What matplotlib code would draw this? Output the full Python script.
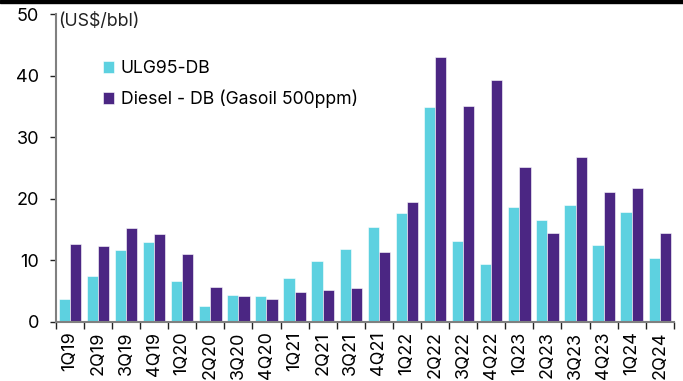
import numpy as np
import matplotlib.pyplot as plt
from matplotlib.patches import Rectangle

plt.rcParams['font.family'] = ['Inter', 'DejaVu Sans']

# 季度标签
quarters = ['1Q19', '2Q19', '3Q19', '4Q19', '1Q20', '2Q20', '3Q20', '4Q20',
            '1Q21', '2Q21', '3Q21', '4Q21', '1Q22', '2Q22', '3Q22', '4Q22',
            '1Q23', '2Q23', '3Q23', '4Q23', '1Q24', '2Q24']

# 汽油裂解价差
ulg95 = [3.7, 7.5, 11.7, 12.9, 6.6, 2.5, 4.4, 4.1,
         7.1, 9.9, 11.8, 15.4, 17.7, 34.9, 13.2, 9.4,
         18.6, 16.5, 18.9, 12.5, 17.8, 10.3]

# 柴油裂解价差
diesel = [12.7, 12.3, 15.3, 14.3, 11.0, 5.7, 4.2, 3.7,
          4.8, 5.2, 5.4, 11.4, 19.5, 43.0, 35.1, 39.3,
          25.1, 14.5, 26.8, 21.1, 21.7, 14.5]

cyan = '#5DD1E0'
purple = '#4B2683'

fig = plt.figure(figsize=(6.83, 3.81), dpi=100)
ax = fig.add_axes([0.0816, 0.1557, 0.905, 0.807])

x = np.arange(len(quarters))
w = 0.4
ax.bar(x - w / 2, ulg95, w, color=cyan, edgecolor='white', linewidth=0.4,
       label='ULG95-DB')
ax.bar(x + w / 2, diesel, w, color=purple, edgecolor='white', linewidth=0.4,
       label='Diesel - DB (Gasoil 500ppm)')

ax.set_xlim(-0.5, len(quarters) - 0.5)
ax.set_ylim(0, 50)
ax.set_yticks([0, 10, 20, 30, 40, 50])

# 刻度线在类别边界，标签在中心
ax.set_xticks(np.arange(len(quarters) + 1) - 0.5)
ax.set_xticklabels([])
ax.set_xticks(x, minor=True)
ax.set_xticklabels(quarters, minor=True, rotation=90, fontsize=13)
ax.tick_params(axis='x', which='minor', length=0, pad=7)
ax.tick_params(axis='x', which='major', length=5, width=1, color='#222222',
               direction='out')
ax.tick_params(axis='y', length=4, width=1, color='#222222', labelsize=13,
               pad=8)

for s in ['top', 'right']:
    ax.spines[s].set_visible(False)
for s in ['left', 'bottom']:
    ax.spines[s].set_color('#808080')
    ax.spines[s].set_linewidth(1.5)

ax.text(0.004, 0.977, '(US$/bbl)', transform=ax.transAxes, fontsize=12.8,
        va='center', ha='left', color='#222222')

leg = ax.legend(loc='upper left', bbox_to_anchor=(0.0765, 0.85), frameon=False,
                fontsize=12.7, handlelength=0.65, handleheight=0.65,
                handletextpad=0.35, labelspacing=0.7, borderpad=0,
                borderaxespad=0)

# 顶部黑色横条
fig.patches.append(Rectangle((0, 0.991), 1, 0.009, transform=fig.transFigure,
                             color='black', zorder=10))

fig.savefig('out.png', dpi=100)
